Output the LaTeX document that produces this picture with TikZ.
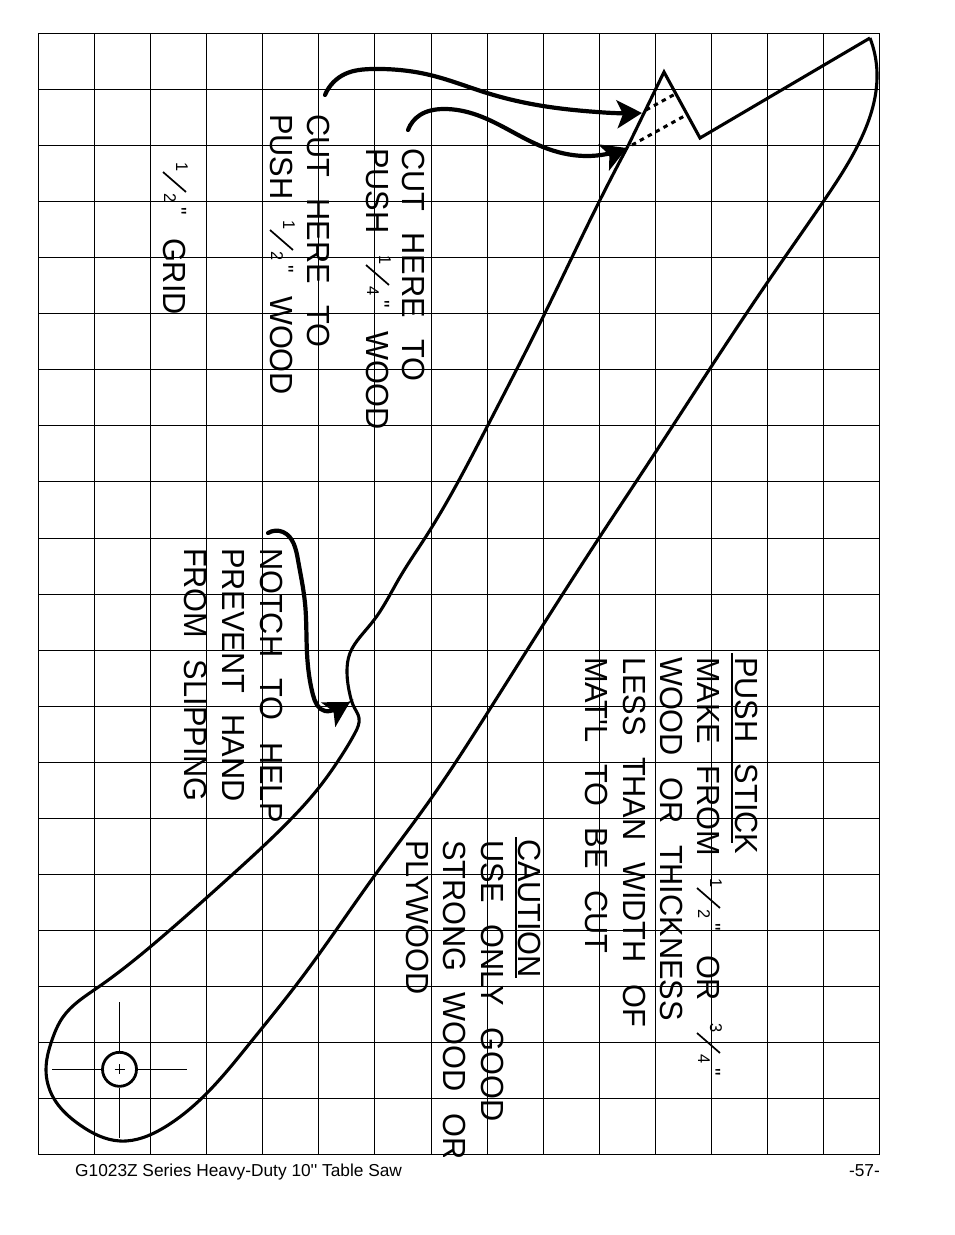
\documentclass[tikz,border=0pt]{standalone}
\usepackage{fontspec}
\usetikzlibrary{arrows.meta,hobby}
\setmainfont{Liberation Sans}
\newfontfamily\labfam[FakeStretch=0.96]{Liberation Sans}
\newfontfamily\footfam{Liberation Sans}
\newcommand\lab{\labfam\fontsize{32}{37}\selectfont\spaceskip=21.5pt\relax}
\tikzset{
  gridline/.style={line width=1pt,black},
  outline/.style={line width=3.1pt,black,line join=miter},
  leader/.style={line width=4.2pt,black,line cap=round,-{Stealth[length=25pt,width=28pt,inset=6pt]}},
  cutline/.style={line width=3pt,black,dash pattern=on 4.5pt off 4.5pt},
  thin line/.style={line width=1pt,black},
  rule line/.style={line width=1.6pt,black},
  vtext/.style={rotate=-90,anchor=base west,inner sep=0pt,outer sep=0pt,font=\lab},
  dig/.style={rotate=-90,anchor=base west,inner sep=0pt,outer sep=0pt,font=\labfam\fontsize{17}{17}\selectfont},
  foot/.style={anchor=base west,inner sep=0pt,font=\footfam\fontsize{17.3}{19}\selectfont},
}
\newcommand\frc[5]{% name, baseline x, start y, num, den
  \node[dig] (#1n) at (#2+13,#3) {#4};
  \node[dig] (#1d) at (#2+1,#3+31) {#5};
  \draw[line width=1.7pt] (#2,#3+10) -- (#2+23,#3+30);
  \node[dig,font=\labfam\fontsize{22}{22}\selectfont] (#1q) at (#2+8,#3+45) {"};
}
\begin{document}
\begin{tikzpicture}[x=1pt,y=-1pt,use Hobby shortcut]
\useasboundingbox (0,0) rectangle (954,1235);
\fill[white] (0,0) rectangle (954,1235);
% grid
\foreach \i in {0,...,15} \draw[gridline] ({38.6+56.06*\i},33.3) -- ({38.6+56.06*\i},1155);
\foreach \j in {0,...,20} \draw[gridline] (38.6,{33.3+56.08*\j}) -- (879.5,{33.3+56.08*\j});
% text block top
\node[vtext] (t1) at (402,148) {CUT HERE TO};
\node[vtext] (t2) at (366,148) {PUSH};
\frc{f1}{366}{255}{1}{4}
\node[vtext] (t2b) at (366,331) {WOOD};
\node[vtext] (t3) at (307,114) {CUT HERE TO};
\node[vtext] (t4) at (270,114) {PUSH};
\frc{f2}{270}{220}{1}{2}
\node[vtext] (t4b) at (270,296) {WOOD};
\frc{f3}{163}{162}{1}{2}
\node[vtext] (t5) at (163,238) {GRID};
% notch note
\node[vtext] (n1) at (260,548) {NOTCH TO HELP};
\node[vtext] (n2) at (222,548) {PREVENT HAND};
\node[vtext] (n3) at (184,548) {FROM SLIPPING};
% push stick note
\node[vtext] (p0) at (735,657) {PUSH STICK};
\draw[rule line] (732,653) -- (732,843);
\node[vtext] (p1) at (697,657) {MAKE FROM};
\frc{f4}{697}{878}{1}{2}
\node[vtext] (p1b) at (697,955) {OR};
\frc{f5}{697}{1023}{3}{4}
\node[vtext] (p2) at (660,657) {WOOD OR THICKNESS};
\node[vtext] (p3) at (623,657) {LESS THAN WIDTH OF};
\node[vtext] (p4) at (585,657) {MAT'L TO BE CUT};
% caution
\node[vtext] (c0) at (518,839) {CAUTION};
\draw[rule line] (516,837) -- (516,978);
\node[vtext] (c1) at (481,840) {USE ONLY GOOD};
\begin{scope}
\clip (380,800) rectangle (480,1156);
\node[vtext] (c2) at (443,840) {STRONG WOOD OR};
\end{scope}
\node[vtext] (c3) at (406,840) {PLYWOOD};
% outline
\draw[outline] (870,38) .. (877,73) .. (858,145) .. (823,202) .. (767,283) .. (711,367)
 .. (655,453) .. (599,538) .. (543,625) .. (488,712) .. (430,800)
 .. (375,875) .. (300,980) .. (250,1043) .. (207,1093) .. (165,1127) .. (120,1141) .. (80,1125)
 .. (53,1097) .. (46,1070) .. (52,1040) .. (63,1017) .. (97,988) .. (170,930) .. (233,874)
 .. (292,818) .. (317,790) .. (340,758) .. (355,733) .. (359,718) .. (354,707) .. (350,695) .. (347,673) .. (350,653) .. (360,637) .. (374,620) .. (400,577) .. (425,538)
 .. (488,425) .. (545,313) .. (600,200) .. (628,146);
\coordinate (tip) at (664,72);
\coordinate (vall) at (700,138);
\coordinate (heel) at (870,38);
\coordinate (neck) at (628,146);
\draw[outline,line cap=butt] (neck) -- (tip) -- (vall) -- (heel);
% cut lines
\coordinate (ca) at (646,110); \coordinate (cb) at (677,93);
\coordinate (cc) at (632,145); \coordinate (cd) at (688,114);
\draw[cutline] (ca) -- (cb);
\draw[cutline] (cc) -- (cd);
% leaders
\coordinate (ua) at (325,95); \coordinate (ub) at (642,113);
\coordinate (la) at (408,130); \coordinate (lb) at (627,148);
\coordinate (na) at (268,533); \coordinate (nb) at (350,702);
\draw[leader] (ua) .. (345,74) .. (373,69) .. (430,75) .. (487,93) .. (543,106) .. (597,112) .. (622,113.3) .. (ub);
\draw[leader] (la) .. (420,115) .. (443,109) .. (477,115) .. (543,147) .. (585,156) .. (607,154) .. (lb);
\draw[leader] (na) .. (283,532) .. (298,560) .. (305,603) .. (307,653) .. (313,695) .. (325,711) .. (336,709) .. (nb);
% pivot
\coordinate (pv) at (119.5,1069.3);
\node[circle,draw,line width=2.8pt,minimum size=34pt,inner sep=0pt] (hole) at (pv) {};
\draw[thin line] (52,1069.3) -- (hole.west);
\draw[thin line] (hole.east) -- (187,1069.3);
\draw[thin line] (119.5,1002) -- (hole.north);
\draw[thin line] (hole.south) -- (119.5,1138);
\draw[thin line] (114.5,1069.3) -- (124.5,1069.3);
\draw[thin line] (119.5,1064.3) -- (119.5,1074.3);
% footer
\node[foot] (ft) at (75,1176) {G1023Z Series Heavy-Duty 10'' Table Saw};
\node[foot,anchor=base east] (pg) at (880,1176) {-57-};
\end{tikzpicture}
\end{document}
